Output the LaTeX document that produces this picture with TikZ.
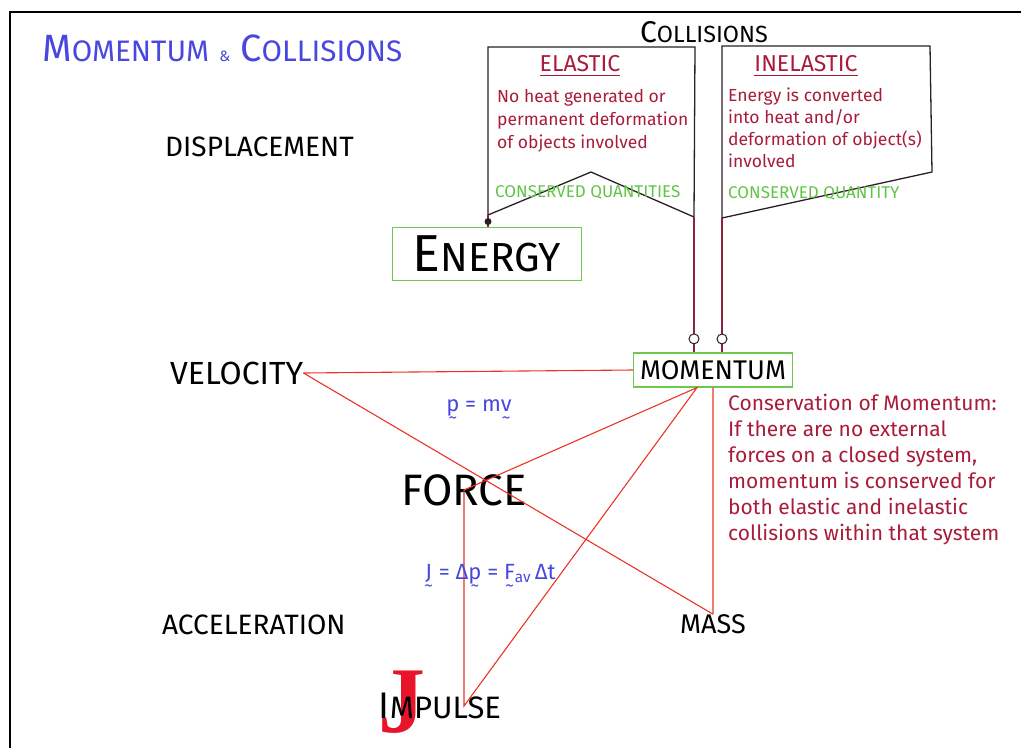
\documentclass[tikz,border=0pt]{standalone}
\usepackage{amsmath}
\usepackage{fontspec}
\setmainfont{Fira Sans}
\newfontfamily\jfont{Liberation Serif}
\usetikzlibrary{positioning,arrows.meta,calc}
\definecolor{titleblue}{RGB}{72,72,222}
\definecolor{inkred}{RGB}{168,28,58}
\definecolor{linered}{RGB}{236,52,36}
\definecolor{boxgreen}{RGB}{110,200,80}
\definecolor{textgreen}{RGB}{96,196,72}
\definecolor{inkdark}{RGB}{45,30,38}
\definecolor{linkred}{RGB}{140,36,60}
\definecolor{jred}{RGB}{232,20,42}
\newcommand{\fsz}[2]{\fontsize{#1pt}{#2pt}\selectfont}
\newcommand{\scap}[2]{#1\scalebox{0.78}{#2}}
\newcommand{\tvec}[1]{\leavevmode\vtop{\offinterlineskip\halign{\hfil##\hfil\cr #1\vphantom{p}\cr\noalign{\kern0.02em}\scalebox{0.8}{\textasciitilde}\cr}}}
\tikzset{
  quantity/.style={font=\fsz{28}{32}, inner sep=0pt, anchor=west},
  conservedbox/.style={draw=boxgreen, line width=1.2pt, inner sep=0pt},
  inkbox/.style={draw=inkdark, line width=1.3pt, line join=miter},
  note/.style={text=inkred, align=left, inner sep=0pt, anchor=north west},
  heading/.style={text=inkred, inner sep=0pt, font=\fsz{23}{26}},
  conserved/.style={text=textgreen, inner sep=0pt, anchor=west, font=\fsz{17}{19}},
  formula/.style={text=titleblue, inner sep=0pt, font=\fsz{22}{26}},
  relation/.style={draw=linered, line width=1.1pt},
  link/.style={draw=linkred, line width=1.1pt},
  ringtip/.style={circle, draw=inkdark, fill=white, line width=1pt, minimum size=10pt, inner sep=0pt},
  dottip/.style={circle, fill=inkdark, minimum size=7pt, inner sep=0pt}
}
\begin{document}
\begin{tikzpicture}[x=1pt, y=-1pt]
  \useasboundingbox (0,0) rectangle (1021,748);
  \draw[line width=2.2pt] (10,748) -- (10,12) -- (1021,12);

  \node[text=titleblue, font=\fsz{38}{44}, inner sep=0pt, anchor=west] (title) at (42,48) {\scap{M}{OMENTUM} {\fsz{15}{16}\&} \scap{C}{OLLISIONS}};
  \node[font=\fsz{30}{34}, inner sep=0pt] (collisions) at (704,32) {\scap{C}{OLLISIONS}};

  \coordinate (elastic-foot) at (488,215);
  \coordinate (elastic-tail) at (694,217);
  \coordinate (inelastic-foot) at (722,218);
  \draw[inkbox] (elastic-foot) -- (488,47) -- (695,47) -- (elastic-tail) -- (591,172) -- cycle;
  \draw[inkbox] (inelastic-foot) -- (722,46) -- (930,46) -- (932,172) -- cycle;

  \node[heading] (elastic) at (580,66) {\underline{ELASTIC}};
  \node[heading] (inelastic) at (806,66) {\underline{INELASTIC}};
  \node[note, font=\fsz{17.5}{23}] (elasticnote) at (497,89) {No heat generated or\\permanent deformation\\of objects involved};
  \node[note, font=\fsz{17.5}{22}] (inelasticnote) at (728,88) {Energy is converted\\into heat and/or\\deformation of object(s)\\involved};
  \node[conserved] (elasticq) at (495,192) {CONSERVED QUANTITIES};
  \node[conserved] (inelasticq) at (728,193) {CONSERVED QUANTITY};

  \node[quantity] (displacement) at (165,147) {DISPLACEMENT};
  \node[quantity, font=\fsz{32}{36}] (velocity) at (170,373) {VELOCITY};
  \node[quantity] (acceleration) at (162,625) {ACCELERATION};
  \node[quantity, font=\fsz{27}{30}] (mass) at (680,624) {MASS};
  \node[conservedbox, minimum width=189pt, minimum height=53pt] (energy) at (487,254) {\fsz{52}{54}\scap{E}{NERGY}};
  \node[conservedbox, minimum width=159pt, minimum height=34pt, font=\fsz{27}{29}] (momentum) at (713,370) {MOMENTUM};
  \node[font=\fsz{44}{48}, inner sep=0pt] (force) at (464,490) {FORCE};
  \node[text=jred, font=\fsz{94}{96}\jfont\bfseries, inner sep=0pt] (bigj) at (402,702) {J};
  \node[font=\fsz{31}{34}, inner sep=0pt] (impulse) at (440,706) {{\fsz{37}{38}I}MPULSE};

  \draw[link] (elastic-foot) -- (energy.north -| elastic-foot) node[dottip, pos=0.55] {};
  \draw[link] (elastic-tail) -- (momentum.north -| elastic-tail) node[ringtip, pos=0.9] {};
  \draw[link] (inelastic-foot) -- (momentum.north -| inelastic-foot) node[ringtip, pos=0.9] {};

  \coordinate (momentum-hub) at ($(momentum.south)+(-16,0)$);
  \coordinate (impulse-hub) at (force.center |- impulse.center);
  \draw[relation] (velocity.east) -- (momentum.west);
  \draw[relation] (velocity.east) -- (mass.north);
  \draw[relation] (momentum-hub) -- (force.center) -- (impulse-hub) -- cycle;
  \draw[relation] (momentum.south) -- (mass.north);

  \node[formula] (momentumeq) at (479,412) {\tvec{p} = m\tvec{v}};
  \node[formula] (impulseeq) at (490,578) {\tvec{J} = Δ\tvec{p} = \tvec{F}\textsubscript{av}\,Δt};
  \node[note, font=\fsz{21}{26}] (conservation) at (728,394) {Conservation of Momentum:\\If there are no external\\forces on a closed system,\\momentum is conserved for\\both elastic and inelastic\\collisions within that system};
\end{tikzpicture}
\end{document}
